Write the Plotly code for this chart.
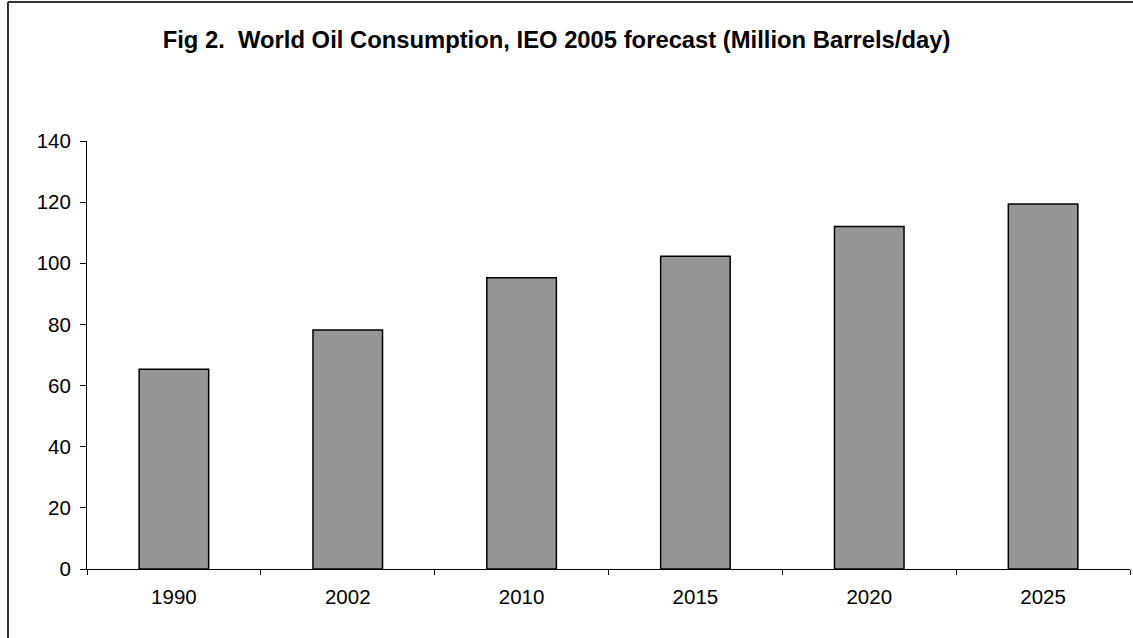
import plotly.graph_objects as go

years = ["1990", "2002", "2010", "2015", "2020", "2025"]
consumption = [65.3, 78.2, 95.3, 102.3, 112.0, 119.4]
y_ticks = [0, 20, 40, 60, 80, 100, 120, 140]
title_text = "Fig 2.  World Oil Consumption, IEO 2005 forecast (Million Barrels/day)"

W, H = 1133, 638
L, R, T, B = 87, 3, 141, 69
pw, ph = W - L - R, H - T - B

fig = go.Figure(go.Bar(
    x=years, y=consumption, width=0.4,
    marker=dict(color="#969696", line=dict(color="#000000", width=1.5)),
))

fig.update_layout(
    width=W, height=H,
    margin=dict(l=L, r=R, t=T, b=B),
    paper_bgcolor="white", plot_bgcolor="white",
    font=dict(family="Liberation Sans, Arial, sans-serif", size=20.5, color="#000000"),
    title=dict(text="<b>" + title_text + "</b>", x=(556.5 - L) / pw, xanchor="center",
               xref="paper", y=1 - 40 / H, yanchor="middle",
               font=dict(size=23.8, color="#000000")),
    showlegend=False,
    bargap=0.6,
)
fig.update_xaxes(
    type="category", showline=True, linecolor="#000000", linewidth=1,
    ticks="outside", tickson="boundaries", ticklen=5, tickcolor="#000000",
    ticklabelstandoff=9,
    showgrid=False, zeroline=False,
)
fig.update_yaxes(
    range=[0, 140], tickvals=y_ticks, showline=True, linecolor="#000000", linewidth=1,
    ticks="outside", ticklen=6, tickcolor="#000000",
    ticklabelstandoff=5,
    showgrid=False, zeroline=False,
)

# chart-area border (left and top edges visible; right/bottom beyond the canvas)
bx0 = (8 - L) / pw
by1 = 1 + (T - 2) / ph
fig.add_shape(type="line", xref="paper", yref="paper", x0=bx0, x1=bx0, y0=-1, y1=by1,
              line=dict(color="#333333", width=2))
fig.add_shape(type="line", xref="paper", yref="paper", x0=bx0, x1=2, y0=by1, y1=by1,
              line=dict(color="#333333", width=2))

fig.write_html("out.html")
